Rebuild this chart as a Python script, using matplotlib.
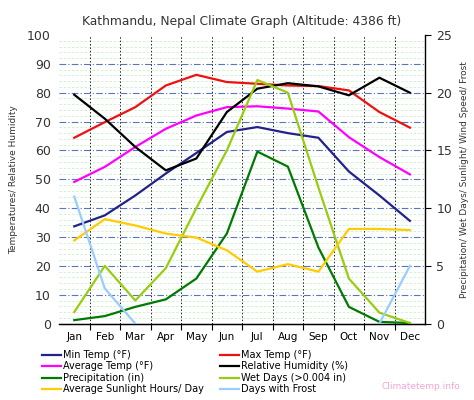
import numpy as np
import matplotlib
matplotlib.use("Agg")
import matplotlib.pyplot as plt
from matplotlib.lines import Line2D

months = ["Jan", "Feb", "Mar", "Apr", "May", "Jun", "Jul", "Aug", "Sep", "Oct", "Nov", "Dec"]

# left axis (F / %)
min_temp = [33.7, 37.5, 44.4, 52.0, 59.1, 66.4, 68.1, 66.0, 64.4, 52.7, 44.4, 35.6]
max_temp = [64.4, 69.8, 75.0, 82.5, 86.2, 83.7, 83.1, 82.5, 82.3, 80.8, 73.3, 67.9]
avg_temp = [49.1, 54.3, 61.2, 67.5, 72.1, 75.0, 75.3, 74.5, 73.5, 64.6, 57.7, 51.7]
humidity = [79.3, 71.0, 61.2, 53.1, 57.2, 73.3, 81.4, 83.3, 82.2, 79.1, 85.2, 80.0]

# right axis
precip = [0.3, 0.65, 1.45, 2.1, 3.9, 7.8, 14.9, 13.6, 6.6, 1.45, 0.15, 0.05]
wet_days = [1.0, 5.0, 2.0, 4.8, 10.0, 15.0, 21.1, 20.0, 11.8, 3.9, 0.95, 0.05]
sunlight = [7.2, 9.05, 8.5, 7.8, 7.45, 6.35, 4.5, 5.15, 4.5, 8.2, 8.2, 8.1]
frost = [11.0, 3.05, 0.0, None, None, None, None, None, None, None, 0.0, 5.0]

x = np.arange(12)

fig = plt.figure(figsize=(4.74, 4.0), dpi=100)
ax = fig.add_axes([0.1245, 0.191, 0.7725, 0.7215])
ax2 = ax.twinx()

ax.set_xlim(-0.5, 11.5)
ax.set_ylim(0, 100)
ax2.set_ylim(0, 25)

# grid: faint green minor lines, blue dash-dot majors, dotted month separators
for v in np.arange(2, 100, 2):
    if v % 10:
        ax.axhline(v, color="#ccf0cc", lw=0.6, ls=(0, (3, 2)), zorder=0)
for v in range(10, 100, 10):
    ax.axhline(v, color="#5577bb", lw=0.8, ls=(0, (6, 2, 1, 2)), zorder=1)
for b in np.arange(0.5, 11.5, 1):
    ax.axvline(b, color="#222222", lw=0.7, ls=(0, (1.5, 2)), zorder=1)

lw = 1.6
ax.plot(x, min_temp, color="#22228a", lw=lw, zorder=3)
ax.plot(x, max_temp, color="#ee1111", lw=lw, zorder=3)
ax.plot(x, avg_temp, color="#ff00ff", lw=lw, zorder=3)
ax.plot(x, humidity, color="#000000", lw=lw, zorder=3)
ax2.plot(x, precip, color="#007a00", lw=lw)
ax2.plot(x, wet_days, color="#99cc11", lw=lw)
ax2.plot(x, sunlight, color="#ffcc00", lw=lw)
ax2.plot(x, np.array(frost, dtype=float), color="#99ccff", lw=lw)

ax.set_xticks(x)
ax.set_xticklabels(months, fontsize=7.5)
ax.set_xticks(np.arange(0.5, 11.5, 1), minor=True)
ax.tick_params(axis="x", which="major", length=0, pad=6)
ax.tick_params(axis="x", which="minor", length=4, width=0.8)
ax.set_yticks(range(0, 101, 10))
ax.tick_params(axis="y", length=0, labelsize=9, colors="#333333", pad=6)
ax2.set_yticks(range(0, 26, 5))
ax2.tick_params(axis="y", length=4, width=0.8, labelsize=9, colors="#333333", pad=4)
ax2.tick_params(axis="y", color="black")

for a in (ax, ax2):
    a.spines["top"].set_visible(False)
    a.spines["left"].set_visible(False)
    a.spines["right"].set_visible(False)
ax.spines["bottom"].set_linewidth(1.0)
ax2.spines["right"].set_visible(True)
ax2.spines["right"].set_linewidth(1.0)

ax.set_ylabel("Temperatures/ Relative Humidity", fontsize=6.5, color="#333333", labelpad=6)
ax2.set_ylabel("Precipitation/ Wet Days/ Sunlight/ Wind Speed/ Frost", fontsize=6.5,
               color="#333333", labelpad=6)
ax.set_title("Kathmandu, Nepal Climate Graph (Altitude: 4386 ft)", fontsize=8.8,
             color="#333333", pad=7)

# legend filled column by column
labels = ["Min Temp (\u00b0F)", "Average Temp (\u00b0F)", "Precipitation (in)",
          "Average Sunlight Hours/ Day", "Max Temp (\u00b0F)", "Relative Humidity (%)",
          "Wet Days (>0.004 in)", "Days with Frost"]
colors = ["#22228a", "#ff00ff", "#007a00", "#ffcc00",
          "#ee1111", "#000000", "#99cc11", "#99ccff"]
handles = [Line2D([], [], color=c, lw=1.6) for c in colors]
fig.legend(handles, labels, loc="upper left", bbox_to_anchor=(0.088, 0.125),
           ncol=2, frameon=False, fontsize=7, handlelength=2.0, handletextpad=0.2,
           columnspacing=1.6, labelspacing=0.15, borderaxespad=0, borderpad=0)

fig.text(0.97, 0.022, "Climatetemp.info", fontsize=6.5, color="#f3a6d6", ha="right", va="bottom")

fig.savefig("out.png", dpi=100)
